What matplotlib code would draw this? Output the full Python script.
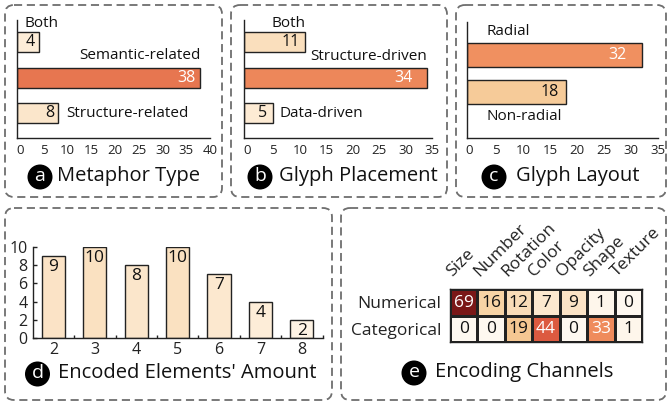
import matplotlib
matplotlib.use('Agg')
import matplotlib.pyplot as plt
from matplotlib.patches import FancyBboxPatch, Circle
from matplotlib.colors import LinearSegmentedColormap, Normalize
import numpy as np

W, H = 670, 404

# ---------------- data ----------------
metaphor_labels = ['Structure-related', 'Semantic-related', 'Both']
metaphor_values = [8, 38, 4]
placement_labels = ['Data-driven', 'Structure-driven', 'Both']
placement_values = [5, 34, 11]
layout_labels = ['Non-radial', 'Radial']
layout_values = [18, 32]
amount_categories = [2, 3, 4, 5, 6, 7, 8]
amount_counts = [9, 10, 8, 10, 7, 4, 2]
channels = ['Size', 'Number', 'Rotation', 'Color', 'Opacity', 'Shape', 'Texture']
channel_rows = ['Numerical', 'Categorical']
numerical_counts = [69, 16, 12, 7, 9, 1, 0]
categorical_counts = [0, 0, 19, 44, 0, 33, 1]
a_ticks = [0, 5, 10, 15, 20, 25, 30, 35, 40]
bc_ticks = [0, 5, 10, 15, 20, 25, 30, 35]
d_yticks = [0, 2, 4, 6, 8, 10]

plt.rcParams['font.family'] = ['Open Sans', 'DejaVu Sans']

cmap = LinearSegmentedColormap.from_list('glyph', [
    (0.0, '#fef8f0'), (0.06, '#fdecd6'), (0.10, '#fce8cf'), (0.23, '#f7d3a6'),
    (0.28, '#f5c590'), (0.48, '#ef8b5c'), (0.64, '#dc5a40'), (1.0, '#7a1717')])
heat = np.array([numerical_counts, categorical_counts])
norm = Normalize(0, heat.max())
EDGE = '#222222'

fig = plt.figure(figsize=(W / 100, H / 100), dpi=100)

# background overlay in pixel units
bg = fig.add_axes([0, 0, 1, 1], zorder=-5)
bg.set_xlim(0, W)
bg.set_ylim(H, 0)
bg.axis('off')


def box(x0, y0, x1, y1):
    p = FancyBboxPatch((x0, y0), x1 - x0, y1 - y0,
                       boxstyle='round,pad=0,rounding_size=9',
                       fc='none', ec='#6e6e6e', lw=1.3,
                       linestyle=(0, (4.5, 2.6)))
    bg.add_patch(p)


def title(cx, cy, letter, text, tx):
    bg.add_patch(Circle((cx, cy), 12.5, fc='black', ec='none'))
    bg.text(cx, cy - 1, letter, color='white', ha='center', va='center',
            fontsize=14)
    bg.text(tx, cy - 1, text, ha='left', va='center', fontsize=14.5,
            color='#111111')


box(5, 5, 222, 197)
box(231, 5, 447, 197)
box(456, 5, 666, 197)
box(5, 208, 332, 400)
box(341, 208, 666, 400)

title(40, 177, 'a', 'Metaphor Type', 57)
title(260, 177, 'b', 'Glyph Placement', 279)
title(494, 177, 'c', 'Glyph Layout', 516)
title(37.5, 374, 'd', "Encoded Elements' Amount", 58)
title(414, 373, 'e', 'Encoding Channels', 435)


def px_axes(l, t, r, b):
    ax = fig.add_axes([l / W, 1 - b / H, (r - l) / W, (b - t) / H])
    ax.set_facecolor('none')
    return ax


def hbar_panel(rect, zero_px, xmax, ticks, labels, values, ypos, ylim,
               height, label_specs, pads):
    l, t, r, b = rect
    scale = (r - zero_px) / xmax
    x0 = -(zero_px - l) / scale
    ax = px_axes(l, t, r, b)
    ax.set_xlim(x0, xmax)
    ax.set_ylim(*ylim)
    vals = np.array(values, dtype=float)
    colors = [cmap(norm(v)) for v in vals]
    ax.barh(ypos, vals - x0, left=x0, height=height, color=colors,
            edgecolor=EDGE, linewidth=1)
    for sp in ['top', 'right']:
        ax.spines[sp].set_visible(False)
    for sp in ['left', 'bottom']:
        ax.spines[sp].set_color(EDGE)
        ax.spines[sp].set_linewidth(1)
    ax.set_yticks([])
    ax.set_xticks(ticks)
    ax.tick_params(axis='x', length=0, pad=4, labelsize=9.5, labelcolor='#222')
    for y, v, lab, spec, pad, c in zip(ypos, vals, labels, label_specs, pads,
                                       colors):
        anchor, dx, dy, ha = spec
        xa = v if anchor == 'end' else 0
        ax.annotate(lab, (xa, y), xytext=(dx, dy), textcoords='offset pixels',
                    ha=ha, va='center', fontsize=11, color='#111')
        tc = 'white' if v > 30 else '#111'
        ax.annotate(f'{int(v)}', (v, y), xytext=(-pad, 0),
                    textcoords='offset pixels', ha='right', va='center',
                    fontsize=11.5, color=tc)
    return ax


# panel a
hbar_panel((17, 20, 210, 138), 20, 40, a_ticks, metaphor_labels,
           metaphor_values, [0, 1, 2], (-0.70, 2.62), 0.56,
           [('end', 8, 0, 'left'), ('end', 0, 22, 'right'),
            ('zero', 5, 19, 'left')], [4, 5, 4])
# panel b
hbar_panel((244, 20, 432, 138), 247, 35, bc_ticks, placement_labels,
           placement_values, [0, 1, 2], (-0.70, 2.62), 0.56,
           [('end', 6, 0, 'left'), ('end', 0, 21, 'right'),
            ('end', 0, 19, 'right')], [6, 14, 5])
# panel c
hbar_panel((467, 22, 658, 138), 469, 35, bc_ticks, layout_labels,
           layout_values, [0, 1], (-1.24, 1.89), 0.65,
           [('zero', 17, -24, 'left'), ('zero', 17, 23, 'left')], [7, 15])

# panel d
axd = px_axes(33, 247, 323, 338)
dcolors = [cmap(norm(v)) for v in amount_counts]
axd.bar(amount_categories, amount_counts, width=0.56, color=dcolors,
        edgecolor=EDGE, linewidth=1)
axd.set_xlim(1.505, 8.51)
axd.set_ylim(0, 10)
for sp in ['top', 'right']:
    axd.spines[sp].set_visible(False)
for sp in ['left', 'bottom']:
    axd.spines[sp].set_color(EDGE)
    axd.spines[sp].set_linewidth(1)
axd.set_xticks(amount_categories)
axd.set_xticks(np.array(amount_categories) + 0.5, minor=True)
axd.set_yticks(d_yticks)
axd.tick_params(axis='x', which='major', length=0, pad=3, labelsize=11.5,
                labelcolor='#222')
axd.tick_params(axis='x', which='minor', direction='in', length=2.5,
                width=1, color=EDGE)
axd.tick_params(axis='y', direction='in', length=3, width=1, color=EDGE,
                pad=4, labelsize=11.5, labelcolor='#222')
for x, v in zip(amount_categories, amount_counts):
    axd.annotate(f'{v}', (x, v), xytext=(0, -3), textcoords='offset pixels',
                 ha='center', va='top', fontsize=12.5, color='#111')

# panel e
axe = px_axes(450, 289, 642, 342)
axe.pcolormesh(heat, cmap=cmap, norm=norm, edgecolors=EDGE, linewidth=1)
axe.set_xlim(0, len(channels))
axe.set_ylim(len(channel_rows), 0)
for sp in axe.spines.values():
    sp.set_color(EDGE)
    sp.set_linewidth(1)
axe.set_xticks([])
axe.set_yticks(np.arange(len(channel_rows)) + 0.5)
axe.set_yticklabels(channel_rows)
axe.tick_params(axis='y', length=0, pad=6, labelsize=12.5, labelcolor='#222')
for i in range(heat.shape[0]):
    for j in range(heat.shape[1]):
        v = heat[i, j]
        axe.text(j + 0.5, i + 0.52, f'{v}', ha='center', va='center',
                 fontsize=12.5, color='white' if v > 30 else '#111')
for j, ch in enumerate(channels):
    axe.text(j + 0.08, -0.45, ch, rotation=45, rotation_mode='anchor',
             ha='left', va='baseline', fontsize=12.5, color='#222',
             clip_on=False)

fig.savefig('out.png', dpi=100)
